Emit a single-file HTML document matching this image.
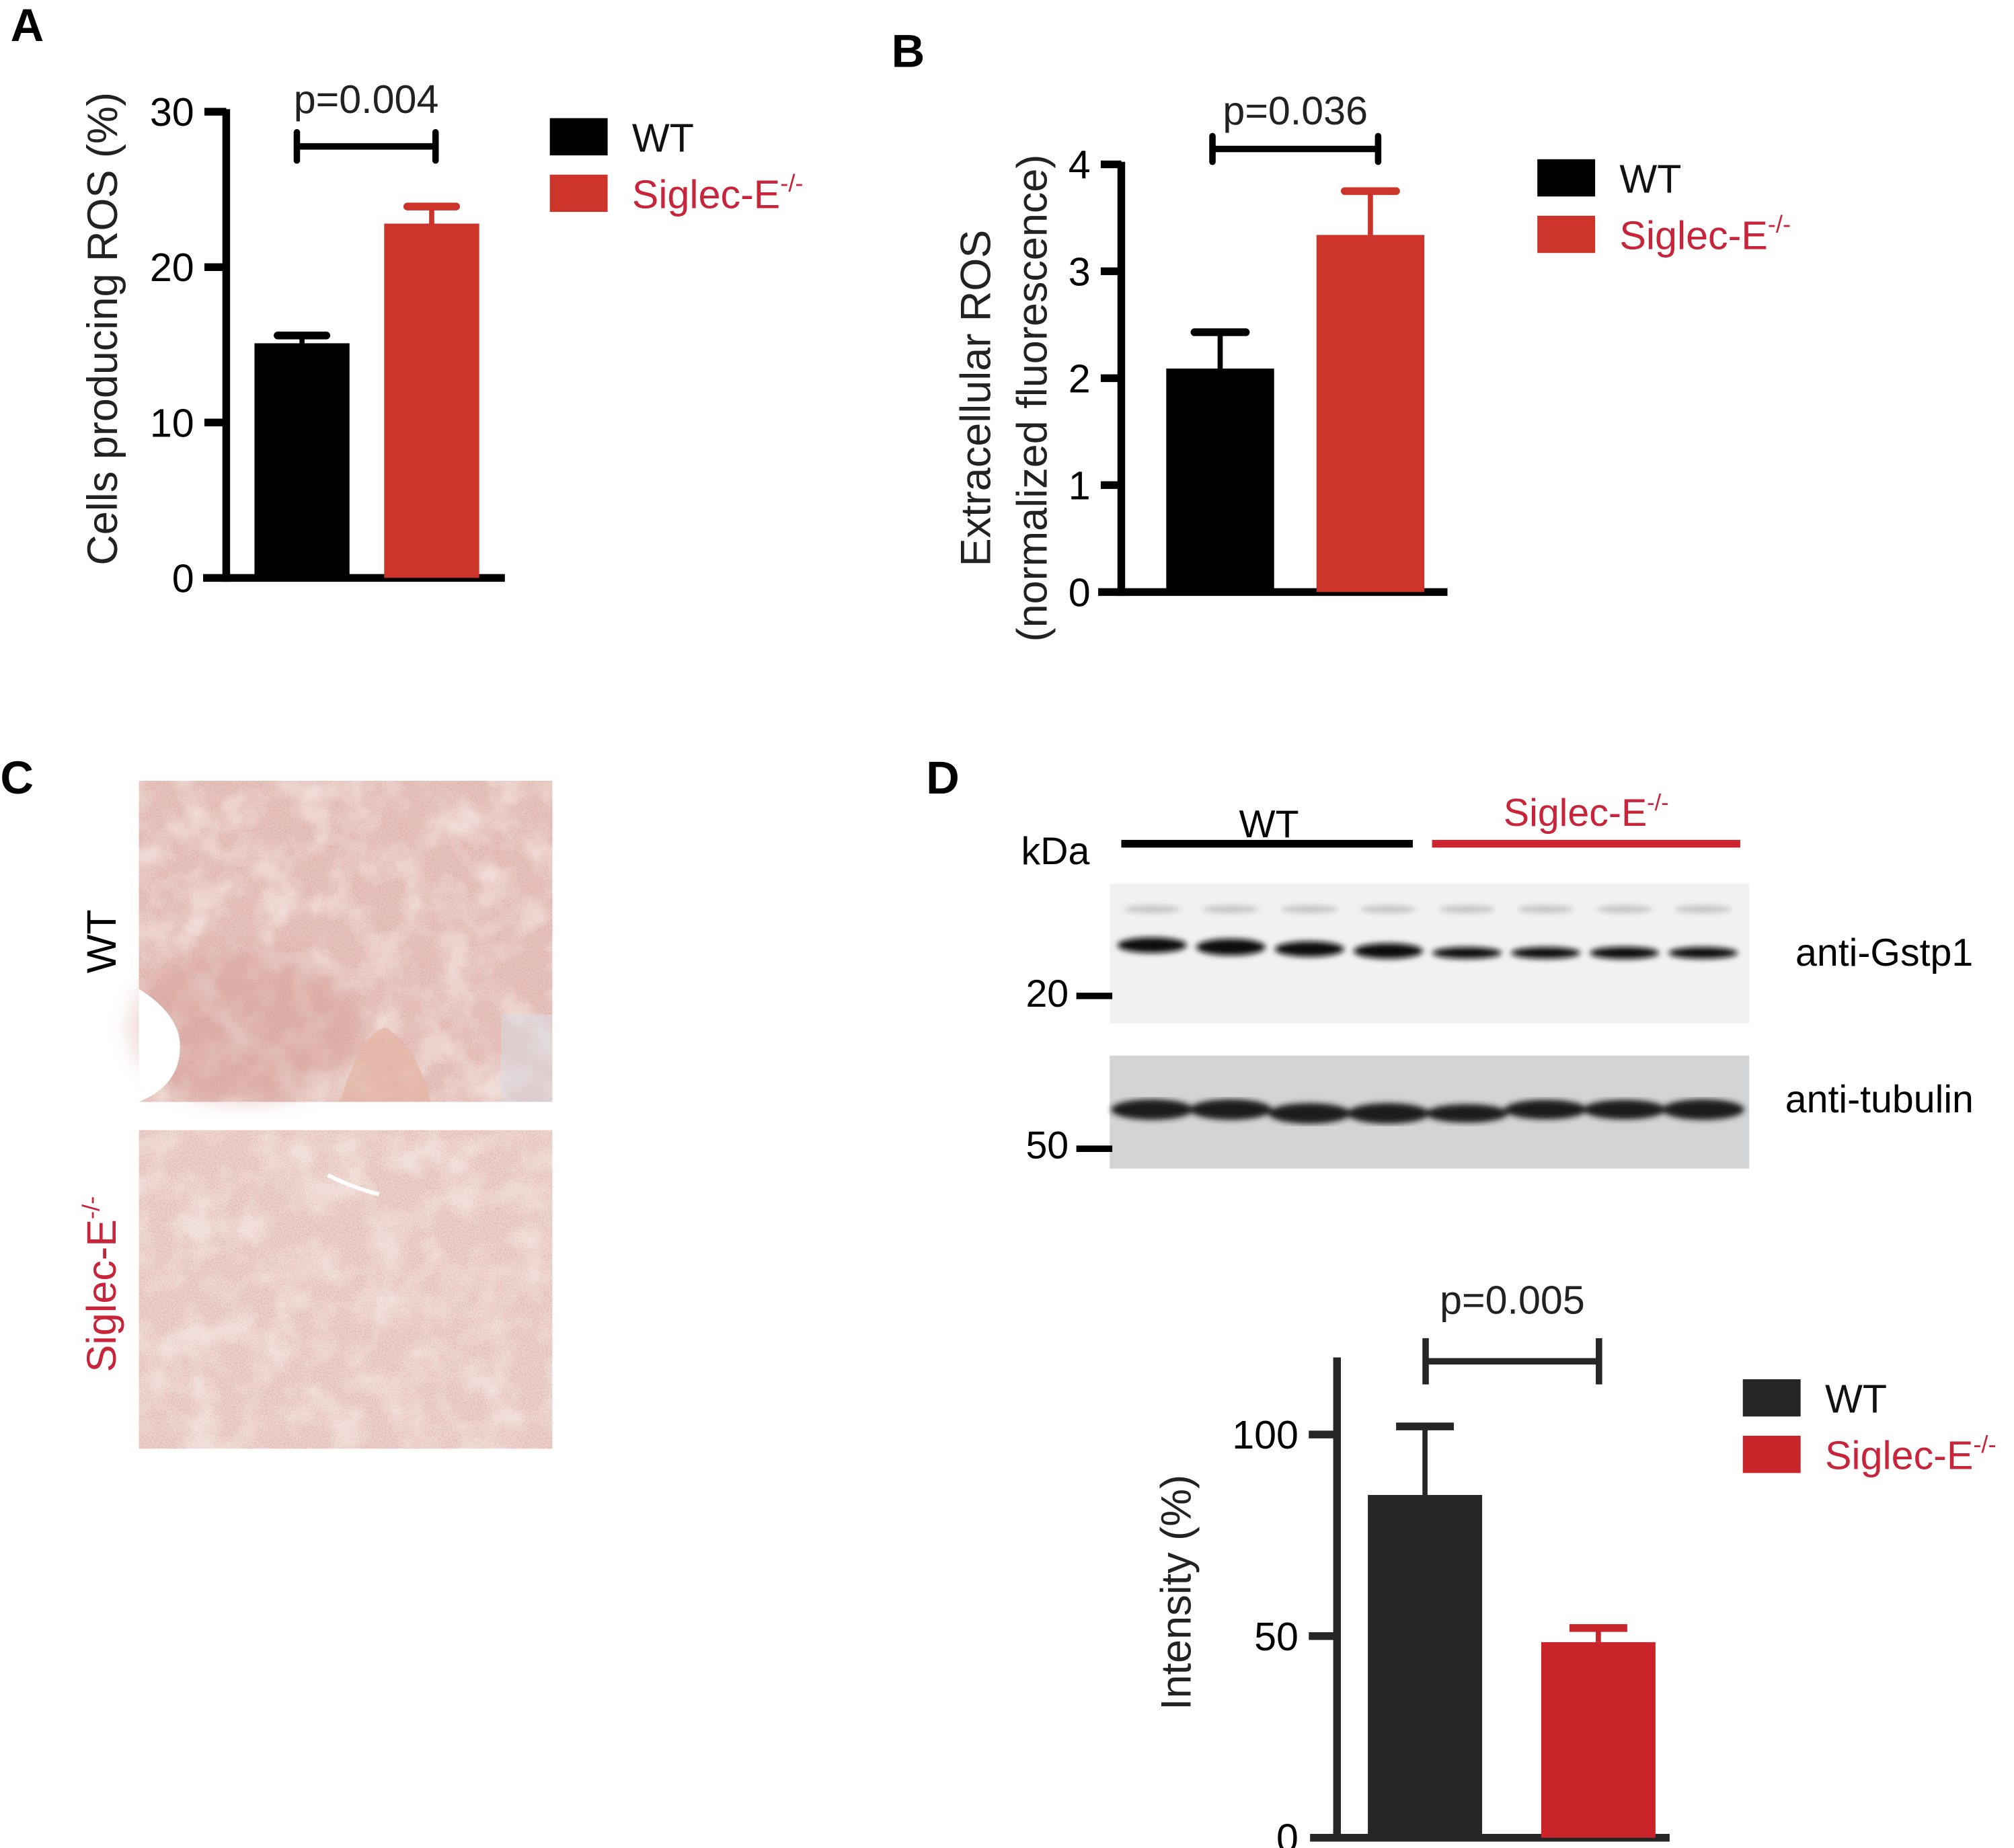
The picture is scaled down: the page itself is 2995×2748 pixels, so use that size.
<!DOCTYPE html>
<html><head><meta charset="utf-8">
<style>
html,body{margin:0;padding:0;background:#fff;}
svg{display:block;font-family:"Liberation Sans",Arial,sans-serif;}
</style></head>
<body>
<svg id="fig" width="2995" height="2748" viewBox="0 0 1568 1439" xmlns="http://www.w3.org/2000/svg">
<defs>
  <filter id="blur2"><feGaussianBlur stdDeviation="2.2"/></filter>
  <filter id="blur6"><feGaussianBlur stdDeviation="8"/></filter>
  <filter id="noise" x="0" y="0" width="100%" height="100%">
    <feTurbulence type="fractalNoise" baseFrequency="0.9" numOctaves="2" seed="3" result="t"/>
    <feColorMatrix type="matrix" values="0 0 0 0 0.72  0 0 0 0 0.35  0 0 0 0 0.33  0 0 0 -2.2 1.45"/>
  </filter>
  <filter id="patch" x="0" y="0" width="100%" height="100%">
    <feTurbulence type="fractalNoise" baseFrequency="0.035" numOctaves="3" seed="8"/>
    <feColorMatrix type="matrix" values="0 0 0 0 1  0 0 0 0 1  0 0 0 0 0.97  0 0 0 -2.5 1.5"/>
  </filter>
</defs>

<text x="8" y="32" font-size="36" font-weight="bold">A</text>
<text x="694" y="52" font-size="36" font-weight="bold">B</text>
<text x="0" y="618" font-size="36" font-weight="bold">C</text>
<text x="721" y="618" font-size="36" font-weight="bold">D</text>

<g id="chartA"></g>
<g id="chartB"></g>
<g id="chartD"></g>

<g>
  <rect x="108" y="608" width="322" height="250" fill="#e6c6bf"/>
  <rect x="108" y="608" width="322" height="250" fill="#cf9a90" filter="url(#noise)" opacity="0.6"/>
  <rect x="108" y="608" width="322" height="250" filter="url(#patch)" opacity="0.45"/>
  <ellipse cx="190" cy="800" rx="90" ry="60" fill="#c98a80" opacity="0.3" filter="url(#blur6)"/>
  <path d="M108 770 Q140 790 140 815 Q140 845 108 858 Z" fill="#ffffff"/>
  <path d="M265 858 Q280 805 300 800 Q325 815 335 858 Z" fill="#e3b5a4" opacity="0.7"/>
  <rect x="390" y="790" width="40" height="68" fill="#d8dde6" opacity="0.5"/>
</g>
<g>
  <rect x="108" y="880" width="322" height="248" fill="#ecd5ce"/>
  <rect x="108" y="880" width="322" height="248" fill="#d2a39a" filter="url(#noise)" opacity="0.55"/>
  <rect x="108" y="880" width="322" height="248" filter="url(#patch)" opacity="0.4"/>
  <path d="M255 915 Q275 925 295 930" stroke="#fff" stroke-width="3" fill="none"/>
</g>
<text transform="translate(90,733) rotate(-90)" text-anchor="middle" font-size="32">WT</text>
<text transform="translate(90,1000) rotate(-90)" text-anchor="middle" font-size="32" fill="#c8243a">Siglec-E<tspan font-size="19" dy="-13">-/-</tspan></text>

<text x="988" y="652" text-anchor="middle" font-size="30">WT</text>
<rect x="873" y="654" width="227" height="6" fill="#000"/>
<text x="1235" y="643" text-anchor="middle" font-size="30" fill="#c8243a">Siglec-E<tspan font-size="18" dy="-12">-/-</tspan></text>
<rect x="1115" y="654" width="240" height="6" fill="#cc2530"/>
<text x="795" y="673" font-size="30">kDa</text>

<g>
  <rect x="864" y="688" width="498" height="109" fill="#f1f1f1"/>
  <g id="gstBands" filter="url(#blur2)"></g>
</g>
<g>
  <rect x="864" y="822" width="498" height="88" fill="#d3d4d6"/>
  <g id="tubBands" filter="url(#blur2)"></g>
</g>
<text x="832" y="784" text-anchor="end" font-size="30">20</text>
<rect x="838" y="773" width="28" height="5" fill="#000"/>
<text x="832" y="902" text-anchor="end" font-size="30">50</text>
<rect x="838" y="892" width="28" height="5" fill="#000"/>
<text x="1398" y="752" font-size="30">anti-Gstp1</text>
<text x="1390" y="866" font-size="30">anti-tubulin</text>

<script>
const catsA = ["WT", "Siglec-E-/-"];
const valsA = [15.1, 22.8];
const errsA = [0.5, 1.1];
const ticksA = [0, 10, 20, 30];
const pA = "p=0.004";
const catsB = ["WT", "Siglec-E-/-"];
const valsB = [2.09, 3.34];
const errsB = [0.34, 0.41];
const ticksB = [0, 1, 2, 3, 4];
const pB = "p=0.036";
const catsD = ["WT", "Siglec-E-/-"];
const valsD = [85, 48.5];
const errsD = [17, 3.5];
const ticksD = [0, 50, 100];
const pD = "p=0.005";
const gstLanes = [1.0, 1.1, 1.0, 1.0, 0.7, 0.7, 0.75, 0.7];
const tubLanes = [1, 1, 1, 1, 0.9, 0.95, 0.95, 1];

const NS = "http://www.w3.org/2000/svg";
function mk(parent, tag, attrs) {
  const e = document.createElementNS(NS, tag);
  for (const k in attrs) e.setAttribute(k, attrs[k]);
  parent.appendChild(e);
  return e;
}

function drawChart(gid, cfg, cats, vals, errs, ticks, ptxt) {
  const g = document.getElementById(gid);
  const y = v => cfg.y0 - v / cfg.max * (cfg.y0 - cfg.yTop);
  const sw = cfg.lw;
  const ya = mk(g, "line", {x1: cfg.ax, x2: cfg.ax, y1: cfg.axTop, y2: cfg.y0 + sw/2, stroke: cfg.axColor, "stroke-width": sw});
  
  
  const xa = mk(g, "line", {x1: cfg.xStart, x2: cfg.xEnd, y1: cfg.y0, y2: cfg.y0, stroke: cfg.axColor, "stroke-width": sw});
  
  
  ticks.forEach(t => {
    if (t !== 0) {
      const tk = mk(g, "line", {x1: cfg.ax - cfg.tickLen, x2: cfg.ax, y1: y(t), y2: y(t), stroke: cfg.axColor, "stroke-width": sw});
      
      
    }
    const tl = mk(g, "text", {x: cfg.ax - cfg.tickLen - 8, y: y(t) + 11, "text-anchor": "end", "font-size": 31});
    tl.textContent = t;
    
    
  });
  vals.forEach((v, i) => {
    const x = cfg.barX[i];
    const col = cfg.colors[i];
    const b = mk(g, "rect", {x: x, y: y(v), width: cfg.barW, height: cfg.y0 - y(v), fill: col});
    
    
    const cx = x + cfg.barW/2;
    const el = mk(g, "line", {x1: cx, x2: cx, y1: y(v), y2: y(v + errs[i]), stroke: col, "stroke-width": 4});
    
    
    const cap = mk(g, "line", {x1: cx - cfg.capW/2, x2: cx + cfg.capW/2, y1: y(v + errs[i]), y2: y(v + errs[i]), stroke: col, "stroke-width": 6, "stroke-linecap": cfg.round ? "round" : "butt"});
    
    
  });
  const bl = mk(g, "line", {x1: cfg.brX[0], x2: cfg.brX[1], y1: cfg.brY, y2: cfg.brY, stroke: cfg.axColor, "stroke-width": 5});
  
  
  cfg.brX.forEach(bxv => {
    const e = mk(g, "line", {x1: bxv, x2: bxv, y1: cfg.brY - cfg.brH, y2: cfg.brY + cfg.brH, stroke: cfg.axColor, "stroke-width": 5, "stroke-linecap": cfg.round ? "round" : "butt"});
    
    
  });
  const pt = mk(g, "text", {x: (cfg.brX[0] + cfg.brX[1]) / 2, y: cfg.pY, "text-anchor": "middle", "font-size": 31, fill: "#222"});
  pt.textContent = ptxt;
  
  
  cfg.title.forEach((line, i) => {
    const tt = mk(g, "text", {transform: "translate(" + cfg.titleX[i] + "," + cfg.titleY + ") rotate(-90)", "text-anchor": "middle", "font-size": 33, fill: "#222"});
    tt.textContent = line;
    
    
  });
  cats.forEach((c, i) => {
    const ly = cfg.legY + i * cfg.legGap;
    const r = mk(g, "rect", {x: cfg.legX, y: ly, width: 45, height: 29, fill: cfg.colors[i]});
    
    
    const t = mk(g, "text", {x: cfg.legX + 64, y: ly + 26, "font-size": 31, fill: i === 0 ? "#111" : "#c8243a"});
    
    
    if (c.endsWith("-/-")) {
      t.textContent = c.slice(0, -3);
      const sp = mk(t, "tspan", {"font-size": 19, dy: -13});
      sp.textContent = "-/-";
    } else t.textContent = c;
  });
}

drawChart("chartA", {y0: 450, yTop: 87, max: 30, ax: 176, axTop: 85, tickLen: 17, lw: 6, axColor: "#000",
  xStart: 158, xEnd: 393, barX: [198, 299], barW: 74, capW: 38, colors: ["#000000", "#cc3329"], round: true,
  brX: [231, 339], brY: 114, brH: 11, pY: 88, title: ["Cells producing ROS (%)"], titleX: [91], titleY: 256,
  legX: 428, legY: 92, legGap: 44}, catsA, valsA, errsA, ticksA, pA);

drawChart("chartB", {y0: 461, yTop: 128, max: 4, ax: 873, axTop: 126, tickLen: 16, lw: 6, axColor: "#000",
  xStart: 855, xEnd: 1127, barX: [908, 1025], barW: 84, capW: 40, colors: ["#000000", "#cc3329"], round: true,
  brX: [944, 1073], brY: 116, brH: 10, pY: 97, title: ["Extracellular ROS", "(normalized fluorescence)"], titleX: [771, 815], titleY: 310,
  legX: 1197, legY: 124, legGap: 44}, catsB, valsB, errsB, ticksB, pB);

drawChart("chartD", {y0: 1431, yTop: 1117, max: 100, ax: 1041, axTop: 1057, tickLen: 22, lw: 6, axColor: "#262626",
  xStart: 1020, xEnd: 1300, barX: [1065, 1200], barW: 89, capW: 45, colors: ["#262626", "#c8242a"], round: false,
  brX: [1110, 1245], brY: 1060, brH: 18, pY: 1023, title: ["Intensity (%)"], titleX: [927], titleY: 1240,
  legX: 1357, legY: 1074, legGap: 44}, catsD, valsD, errsD, ticksD, pD);

const laneX = i => 897 + i * 61.3;
const gb = document.getElementById("gstBands");
gstLanes.forEach((s, i) => {
  const b = mk(gb, "ellipse", {cx: laneX(i), cy: i < 4 ? 736 + i * 1.5 : 742, rx: 27, ry: 5 * s + 1, fill: "#111"});
  
  
  const f = mk(gb, "ellipse", {cx: laneX(i), cy: 708, rx: 22, ry: 2.5, fill: "#999", opacity: 0.6});
  
  
});
const tb = document.getElementById("tubBands");
tubLanes.forEach((s, i) => {
  const b = mk(tb, "ellipse", {cx: laneX(i), cy: 862 + (i > 1 && i < 5 ? 5 : 2), rx: 32, ry: 8 * s, fill: "#1a1a1a"});
  
  
});
</script>
</svg>
</body></html>
